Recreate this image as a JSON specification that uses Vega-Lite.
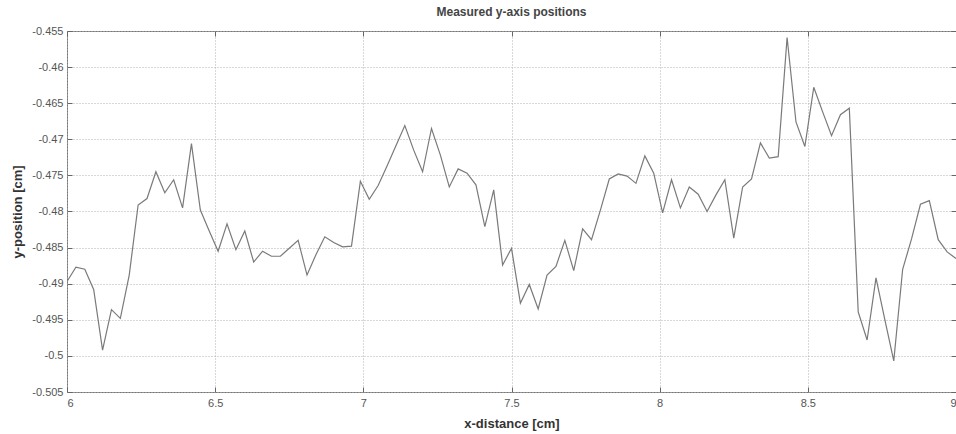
{
  "$schema": "https://vega.github.io/schema/vega-lite/v6.json",
  "width": 889,
  "height": 361,
  "autosize": "none",
  "padding": {"left": 67, "top": 31, "right": 0, "bottom": 42},
  "background": "white",
  "title": {"text": "Measured y-axis positions", "fontSize": 12, "font": "Liberation Sans", "fontWeight": "bold", "color": "#444", "offset": 6, "anchor": "middle"},
  "config": {
    "view": {"stroke": "#777", "strokeWidth": 1},
    "axis": {"labelFont": "Liberation Sans", "labelFontSize": 11, "labelColor": "#555", "titleFont": "Liberation Sans", "titleFontSize": 13, "titleFontWeight": "bold", "titleColor": "#333", "domain": false, "tickColor": "#666", "gridColor": "#b0b0b0", "gridDash": [1, 2], "gridWidth": 1}
  },
  "data": {"values": [
    {"x": 6.00, "y": -0.4897}, {"x": 6.03, "y": -0.4877}, {"x": 6.06, "y": -0.4880}, {"x": 6.09, "y": -0.4908},
    {"x": 6.12, "y": -0.4992}, {"x": 6.15, "y": -0.4936}, {"x": 6.18, "y": -0.4948}, {"x": 6.21, "y": -0.4888},
    {"x": 6.24, "y": -0.4791}, {"x": 6.27, "y": -0.4782}, {"x": 6.30, "y": -0.4745}, {"x": 6.33, "y": -0.4774},
    {"x": 6.36, "y": -0.4756}, {"x": 6.39, "y": -0.4795}, {"x": 6.42, "y": -0.4706}, {"x": 6.45, "y": -0.4798},
    {"x": 6.48, "y": -0.4827}, {"x": 6.51, "y": -0.4855}, {"x": 6.54, "y": -0.4817}, {"x": 6.57, "y": -0.4853},
    {"x": 6.60, "y": -0.4827}, {"x": 6.63, "y": -0.4870}, {"x": 6.66, "y": -0.4855}, {"x": 6.69, "y": -0.4862},
    {"x": 6.72, "y": -0.4862}, {"x": 6.75, "y": -0.4851}, {"x": 6.78, "y": -0.4840}, {"x": 6.81, "y": -0.4888},
    {"x": 6.84, "y": -0.4860}, {"x": 6.87, "y": -0.4835}, {"x": 6.90, "y": -0.4843}, {"x": 6.93, "y": -0.4849},
    {"x": 6.96, "y": -0.4848}, {"x": 6.99, "y": -0.4758}, {"x": 7.02, "y": -0.4783}, {"x": 7.05, "y": -0.4764},
    {"x": 7.08, "y": -0.4737}, {"x": 7.11, "y": -0.4709}, {"x": 7.14, "y": -0.4681}, {"x": 7.17, "y": -0.4715},
    {"x": 7.20, "y": -0.4745}, {"x": 7.23, "y": -0.4685}, {"x": 7.26, "y": -0.4722}, {"x": 7.29, "y": -0.4766},
    {"x": 7.32, "y": -0.4741}, {"x": 7.35, "y": -0.4747}, {"x": 7.38, "y": -0.4763}, {"x": 7.41, "y": -0.4821},
    {"x": 7.44, "y": -0.4770}, {"x": 7.47, "y": -0.4874}, {"x": 7.50, "y": -0.4851}, {"x": 7.53, "y": -0.4927},
    {"x": 7.56, "y": -0.4901}, {"x": 7.59, "y": -0.4935}, {"x": 7.62, "y": -0.4888}, {"x": 7.65, "y": -0.4876},
    {"x": 7.68, "y": -0.4840}, {"x": 7.71, "y": -0.4882}, {"x": 7.74, "y": -0.4824}, {"x": 7.77, "y": -0.4839},
    {"x": 7.80, "y": -0.4798}, {"x": 7.83, "y": -0.4755}, {"x": 7.86, "y": -0.4748}, {"x": 7.89, "y": -0.4751},
    {"x": 7.92, "y": -0.4761}, {"x": 7.95, "y": -0.4723}, {"x": 7.98, "y": -0.4747}, {"x": 8.01, "y": -0.4802},
    {"x": 8.04, "y": -0.4756}, {"x": 8.07, "y": -0.4795}, {"x": 8.10, "y": -0.4766}, {"x": 8.13, "y": -0.4776},
    {"x": 8.16, "y": -0.4800}, {"x": 8.19, "y": -0.4777}, {"x": 8.22, "y": -0.4756}, {"x": 8.25, "y": -0.4837},
    {"x": 8.28, "y": -0.4766}, {"x": 8.31, "y": -0.4755}, {"x": 8.34, "y": -0.4705}, {"x": 8.37, "y": -0.4726},
    {"x": 8.40, "y": -0.4724}, {"x": 8.43, "y": -0.4559}, {"x": 8.46, "y": -0.4676}, {"x": 8.49, "y": -0.4710},
    {"x": 8.52, "y": -0.4628}, {"x": 8.55, "y": -0.4662}, {"x": 8.58, "y": -0.4695}, {"x": 8.61, "y": -0.4666},
    {"x": 8.64, "y": -0.4657}, {"x": 8.67, "y": -0.4939}, {"x": 8.70, "y": -0.4978}, {"x": 8.73, "y": -0.4892},
    {"x": 8.76, "y": -0.4950}, {"x": 8.79, "y": -0.5007}, {"x": 8.82, "y": -0.4880}, {"x": 8.85, "y": -0.4838},
    {"x": 8.88, "y": -0.4790}, {"x": 8.91, "y": -0.4785}, {"x": 8.94, "y": -0.4839}, {"x": 8.97, "y": -0.4856},
    {"x": 9.00, "y": -0.4865}
  ]},
  "layer": [
    {
      "mark": {"type": "line", "color": "#7a7a7a", "strokeWidth": 1.2, "clip": true},
      "encoding": {
        "x": {"field": "x", "type": "quantitative", "scale": {"domain": [6, 9], "nice": false, "zero": false},
          "axis": {"orient": "bottom", "values": [6, 6.5, 7, 7.5, 8, 8.5, 9], "format": "~g", "tickSize": -5, "labelPadding": 10, "grid": true, "title": "x-distance [cm]", "titlePadding": 9}},
        "y": {"field": "y", "type": "quantitative", "scale": {"domain": [-0.505, -0.455], "nice": false, "zero": false},
          "axis": {"orient": "left", "values": [-0.505, -0.5, -0.495, -0.49, -0.485, -0.48, -0.475, -0.47, -0.465, -0.46, -0.455], "labelExpr": "'-' + format(-datum.value, '~g')", "tickSize": -5, "labelPadding": 9, "grid": true, "title": "y-position [cm]", "titlePadding": 7}}
      }
    },
    {
      "mark": {"type": "line", "opacity": 0},
      "encoding": {
        "x": {"field": "x", "type": "quantitative", "axis": {"orient": "top", "values": [6, 6.5, 7, 7.5, 8, 8.5, 9], "labels": false, "grid": false, "tickSize": -5, "title": null}},
        "y": {"field": "y", "type": "quantitative", "axis": {"orient": "right", "values": [-0.505, -0.5, -0.495, -0.49, -0.485, -0.48, -0.475, -0.47, -0.465, -0.46, -0.455], "labels": false, "grid": false, "tickSize": -5, "title": null}}
      }
    }
  ],
  "resolve": {"axis": {"x": "independent", "y": "independent"}}
}
